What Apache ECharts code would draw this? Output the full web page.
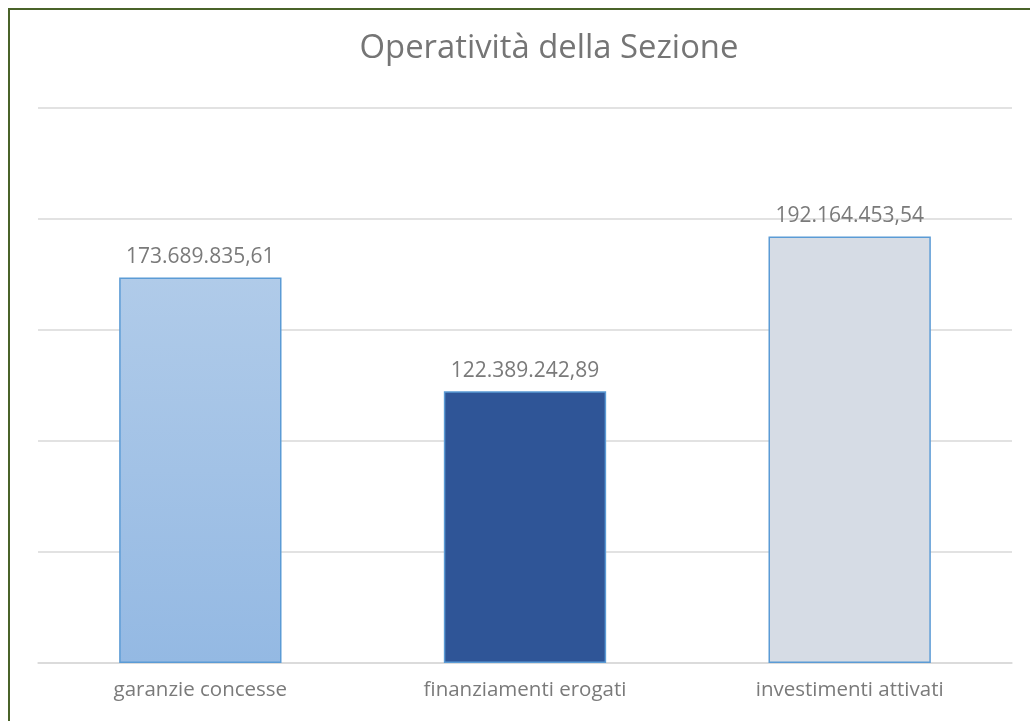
<!DOCTYPE html>
<html>
<head>
<meta charset="utf-8">
<script src="https://cdn.jsdelivr.net/npm/echarts@6/dist/echarts.min.js"></script>
<style>
html,body{margin:0;padding:0;width:1030px;height:721px;overflow:hidden;background:#fff;}
#frame{position:absolute;left:8px;top:8px;width:1100px;height:800px;border-left:2px solid #4a6329;border-top:2px solid #4a6329;box-sizing:border-box;}
#chart{position:absolute;left:0;top:0;width:1030px;height:721px;}
</style>
</head>
<body>
<div id="frame"></div>
<div id="chart"></div>
<script>
const categories = ['garanzie concesse', 'finanziamenti erogati', 'investimenti attivati'];
const values = [173689835.61, 122389242.89, 192164453.54];
const titleText = 'Operatività della Sezione';

function fmtIt(v) {
  const parts = v.toFixed(2).split('.');
  return parts[0].replace(/\B(?=(\d{3})+(?!\d))/g, '.') + ',' + parts[1];
}

const barStyles = [
  {color: new echarts.graphic.LinearGradient(0,0,0,1,[{offset:0,color:'#b0cbe9'},{offset:1,color:'#94b9e3'}]), borderColor:'#5b9bd5', borderWidth:1.5},
  {color:'#2f5597', borderColor:'#5b9bd5', borderWidth:1.5},
  {color:'#d6dce5', borderColor:'#5b9bd5', borderWidth:1.5}
];

const chart = echarts.init(document.getElementById('chart'));
chart.setOption({
  animation: false,
  title: {
    text: titleText,
    left: 544, top: 27, textAlign: 'center',
    textStyle: {fontFamily: 'Open Sans', fontSize: 32.8, fontWeight: 'normal', color: '#757575'}
  },
  grid: {left: 38, right: 18, top: 108, bottom: 58},
  xAxis: {
    type: 'category', data: categories,
    axisLine: {lineStyle: {color: '#d9d9d9', width: 1.5}},
    axisTick: {show: false},
    axisLabel: {fontFamily: 'Open Sans', fontSize: 20.5, color: '#7a7a7a', margin: 17}
  },
  yAxis: {
    type: 'value', min: 0, max: 250000000, interval: 50000000,
    axisLabel: {show: false}, axisLine: {show: false}, axisTick: {show: false},
    splitLine: {lineStyle: {color: '#d9d9d9', width: 1.5}}
  },
  series: [{
    type: 'bar', barWidth: '50%',
    data: values.map((v, i) => ({value: v, itemStyle: barStyles[i]})),
    label: {
      show: true, position: 'top', distance: 10,
      fontFamily: 'Open Sans', fontSize: 21, color: '#7a7a7a',
      formatter: p => fmtIt(p.value)
    }
  }]
});
</script>
</body>
</html>
